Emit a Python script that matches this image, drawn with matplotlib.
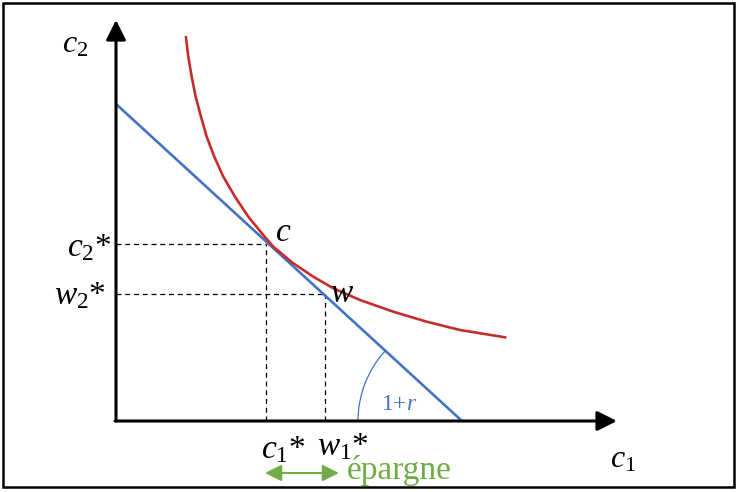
import matplotlib
matplotlib.use("Agg")
import matplotlib.pyplot as plt
from matplotlib.patches import Arc, Rectangle

plt.rcParams['font.family'] = ['Liberation Serif', 'DejaVu Serif']
plt.rcParams['mathtext.fontset'] = 'custom'
plt.rcParams['mathtext.rm'] = 'Liberation Serif'
plt.rcParams['mathtext.it'] = 'Liberation Serif:italic'

# ---- data (diagram units) ----
budget_x = [0, 346]
budget_y = [317, 0]

indiff_x = [70, 72.3, 75.7, 79.7, 85, 90.7, 98.3, 107.3, 119, 132.3, 147.3,
            157.3, 177.3, 197.3, 217.3, 244, 277.3, 310.7, 344, 389]
indiff_y = [383.7, 364.3, 344.3, 324.3, 304.3, 284.3, 264.3, 244.3, 224.3, 204.3, 186,
            174.3, 157.7, 144.3, 132.7, 121, 109.3, 99.3, 91, 83.7]

c_star = (150, 177)
w_star = (209, 127)

axis_x_end = 501
axis_y_end = 401

BLUE = '#4472c4'
RED = '#c62d2a'
GREEN = '#70ad47'

fig = plt.figure(figsize=(7.39, 4.92), dpi=100)
ax = fig.add_axes([0, 0, 1, 1])
ax.set_xlim(-116, 623)
ax.set_ylim(-71, 421)
ax.axis('off')

# border
ax.add_patch(Rectangle((-113, -66), 731, 484, fill=False, lw=1.8, ec='black'))

# axes with arrows
ax.annotate('', xy=(0, axis_y_end), xytext=(0, 0),
            arrowprops=dict(arrowstyle='-|>,head_length=0.6,head_width=0.3',
                            mutation_scale=20, lw=2.2, color='black',
                            shrinkA=0, shrinkB=0))
ax.annotate('', xy=(axis_x_end, 0), xytext=(-1, 0),
            arrowprops=dict(arrowstyle='-|>,head_length=0.6,head_width=0.3',
                            mutation_scale=20, lw=2.2, color='black',
                            shrinkA=0, shrinkB=0))

# dashed guides
dash = dict(color='black', lw=0.9, ls=(0, (4, 3)))
ax.plot([0, c_star[0]], [c_star[1], c_star[1]], **dash)
ax.plot([c_star[0], c_star[0]], [0, c_star[1]], **dash)
ax.plot([0, w_star[0]], [w_star[1], w_star[1]], **dash)
ax.plot([w_star[0], w_star[0]], [0, w_star[1]], **dash)

# budget line & indifference curve
ax.plot(budget_x, budget_y, color=BLUE, lw=1.9, solid_capstyle='butt')
ax.plot(indiff_x, indiff_y, color=RED, lw=1.9, solid_joinstyle='round')

# angle arc
ax.add_patch(Arc((budget_x[1], 0), 208, 208, theta1=137.5, theta2=180, color=BLUE, lw=0.9))
ax.text(283, 17, r'1+$\mathit{r}$', color=BLUE, fontsize=17, ha='center', va='center')

# labels
ax.text(-41, 376, r'$\mathit{c}_{\mathit{2}}$', fontsize=23, ha='center', va='center')
ax.text(507, -39, r'$\mathit{c}_{\mathit{1}}$', fontsize=23, ha='center', va='center')
ax.text(-5, 173, r'$\mathit{c}_{\mathit{2}}$*', fontsize=24, ha='right', va='center')
ax.text(-10, 125, r'$\mathit{w}_{\mathit{2}}$*', fontsize=24, ha='right', va='center')
ax.text(167, -29, r'$\mathit{c}_{\mathit{1}}$*', fontsize=24, ha='center', va='center')
ax.text(227, -26, r'$\mathit{w}_{\mathit{1}}$*', fontsize=24, ha='center', va='center')
ax.text(167, 188, r'$\mathit{c}$', fontsize=24, ha='center', va='center')
ax.text(226, 127, r'$\mathit{w}$', fontsize=24, ha='center', va='center')

ax.text(231, -50, 'épargne', color=GREEN, fontsize=24, ha='left', va='center')
ax.annotate('', xy=(223, -52), xytext=(149, -52),
            arrowprops=dict(arrowstyle='<|-|>,head_length=0.5,head_width=0.25',
                            mutation_scale=20, lw=1.5, color=GREEN,
                            shrinkA=0, shrinkB=0))

fig.savefig('out.png', dpi=100)
